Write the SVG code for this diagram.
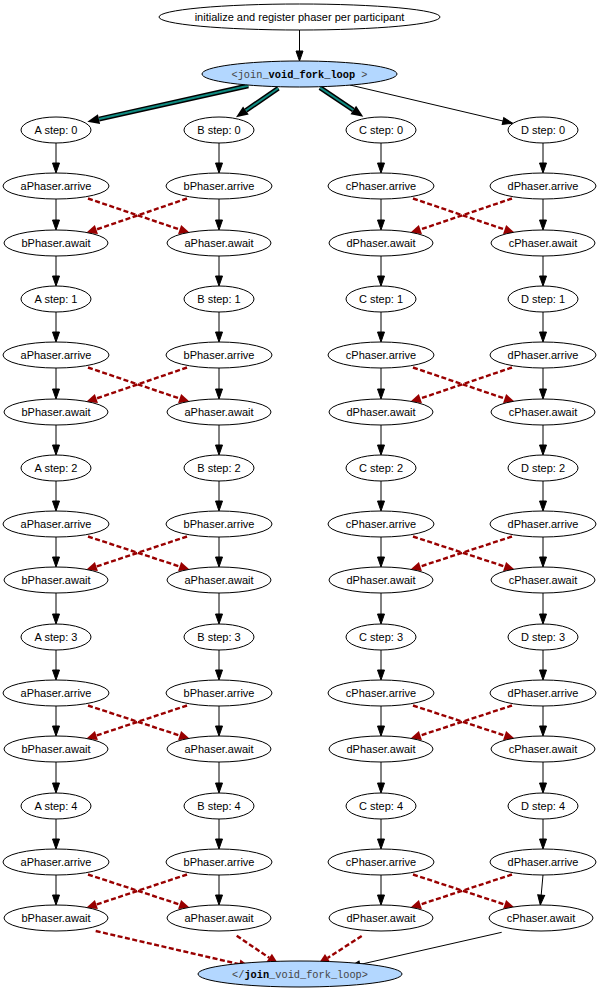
<svg xmlns="http://www.w3.org/2000/svg" width="600" height="996" viewBox="0 0 600 996">
<style>
.n ellipse{fill:#fff;stroke:#000;stroke-width:1}
.n text{font-family:"Liberation Sans",Arial,sans-serif;font-size:11px;text-anchor:middle;fill:#000}
.j ellipse{fill:#b3d7ff;stroke:#000;stroke-width:1}
.j text{font-family:"Liberation Mono","Courier New",monospace;font-size:10.3px;text-anchor:middle;fill:#444}
.j tspan.b{font-weight:bold;fill:#000}
.e{stroke:#000;stroke-width:1;fill:none;marker-end:url(#ab)}
.d{stroke:#990000;stroke-width:2.4;stroke-dasharray:5,2.5;fill:none;marker-end:url(#ar)}
.t1{stroke:#000;stroke-width:5;fill:none;marker-end:url(#at)}
.t2{stroke:#0f8a80;stroke-width:2;fill:none}
</style>
<defs>
<marker id="ab" markerUnits="userSpaceOnUse" markerWidth="12" markerHeight="10" refX="0" refY="0" orient="auto" overflow="visible"><path d="M0,-3.5 L10,0 L0,3.5 z" fill="#000" stroke="#000" stroke-width="1"/></marker>
<marker id="ar" markerUnits="userSpaceOnUse" markerWidth="12" markerHeight="10" refX="0" refY="0" orient="auto" overflow="visible"><path d="M0,-4.8 L11,0 L0,4.8 z" fill="#990000"/></marker>
<marker id="at" markerUnits="userSpaceOnUse" markerWidth="14" markerHeight="12" refX="0" refY="0" orient="auto" overflow="visible"><path d="M0,-5 L12,0 L0,5 z" fill="#000"/></marker>
</defs>

<g id="edges">
<path class="e" d="M299.5,30 V51"/>
<path class="t1" d="M248.3,85.7 L99,119.1"/><path class="t2" d="M248.3,85.7 L99,119.1"/>
<path class="t1" d="M278.3,88.3 L245.9,110.5"/><path class="t2" d="M278.3,88.3 L245.9,110.5"/>
<path class="t1" d="M320,87.7 L353.3,110"/><path class="t2" d="M320,87.7 L353.3,110"/>
<path class="e" d="M350,85 L503,121"/>

<path class="e" d="M56,143 V163"/><path class="e" d="M56,199 V220"/><path class="e" d="M56,256 V276"/><path class="e" d="M56,312 V332"/><path class="e" d="M56,368 V389"/><path class="e" d="M56,425 V445"/><path class="e" d="M56,481 V501"/><path class="e" d="M56,537 V557"/><path class="e" d="M56,593 V614"/><path class="e" d="M56,650 V670"/><path class="e" d="M56,706 V726"/><path class="e" d="M56,762 V783"/><path class="e" d="M56,819 V839"/><path class="e" d="M56,875 V895"/>
<path class="e" d="M219,143 V163"/><path class="e" d="M219,199 V220"/><path class="e" d="M219,256 V276"/><path class="e" d="M219,312 V332"/><path class="e" d="M219,368 V389"/><path class="e" d="M219,425 V445"/><path class="e" d="M219,481 V501"/><path class="e" d="M219,537 V557"/><path class="e" d="M219,593 V614"/><path class="e" d="M219,650 V670"/><path class="e" d="M219,706 V726"/><path class="e" d="M219,762 V783"/><path class="e" d="M219,819 V839"/><path class="e" d="M219,875 V895"/>
<path class="e" d="M381,143 V163"/><path class="e" d="M381,199 V220"/><path class="e" d="M381,256 V276"/><path class="e" d="M381,312 V332"/><path class="e" d="M381,368 V389"/><path class="e" d="M381,425 V445"/><path class="e" d="M381,481 V501"/><path class="e" d="M381,537 V557"/><path class="e" d="M381,593 V614"/><path class="e" d="M381,650 V670"/><path class="e" d="M381,706 V726"/><path class="e" d="M381,762 V783"/><path class="e" d="M381,819 V839"/><path class="e" d="M381,875 V895"/>
<path class="e" d="M543,143 V163"/><path class="e" d="M543,199 V220"/><path class="e" d="M543,256 V276"/><path class="e" d="M543,312 V332"/><path class="e" d="M543,368 V389"/><path class="e" d="M543,425 V445"/><path class="e" d="M543,481 V501"/><path class="e" d="M543,537 V557"/><path class="e" d="M543,593 V614"/><path class="e" d="M543,650 V670"/><path class="e" d="M543,706 V726"/><path class="e" d="M543,762 V783"/><path class="e" d="M543,819 V839"/><path class="e" d="M543,875 L541.2,895"/>

<path class="d" d="M88,198.5 L179.6,229.5"/><path class="d" d="M187,198.5 L96.4,229.5"/><path class="d" d="M413,198.5 L504.6,229.5"/><path class="d" d="M512,198.5 L420.4,229.5"/>
<path class="d" d="M88,367.5 L179.6,398.5"/><path class="d" d="M187,367.5 L96.4,398.5"/><path class="d" d="M413,367.5 L504.6,398.5"/><path class="d" d="M512,367.5 L420.4,398.5"/>
<path class="d" d="M88,536.5 L179.6,566.5"/><path class="d" d="M187,536.5 L96.4,566.5"/><path class="d" d="M413,536.5 L504.6,566.5"/><path class="d" d="M512,536.5 L420.4,566.5"/>
<path class="d" d="M88,705.5 L179.6,735.5"/><path class="d" d="M187,705.5 L96.4,735.5"/><path class="d" d="M413,705.5 L504.6,735.5"/><path class="d" d="M512,705.5 L420.4,735.5"/>
<path class="d" d="M88,874.5 L179.6,904.5"/><path class="d" d="M187,874.5 L96.4,904.5"/><path class="d" d="M413,874.5 L504.6,904.5"/><path class="d" d="M512,874.5 L420.4,904.5"/>

<path class="d" d="M95.7,931 L239.3,964.2"/>
<path class="d" d="M236.7,935.7 L269.2,957.8"/>
<path class="d" d="M361.7,936 L327.6,958"/>
<path class="e" d="M501.7,932.3 L359.8,964.5"/>
</g>

<g id="init" class="n"><ellipse cx="299.5" cy="17" rx="140.5" ry="13"/><text x="299.5" y="21">initialize and register phaser per participant</text></g>
<g id="join_open" class="j"><ellipse cx="299.5" cy="74" rx="97.5" ry="13"/><text x="299.5" y="78">&lt;join_<tspan class="b">void_fork_loop</tspan> &gt;</text></g>
<g id="join_close" class="j"><ellipse cx="300" cy="974" rx="102" ry="13"/><text x="300" y="978">&lt;/<tspan class="b">join</tspan>_void_fork_loop&gt;</text></g>

<g id="A0" class="n"><ellipse cx="56" cy="130" rx="35" ry="13"/><text x="56" y="134">A step: 0</text></g>
<g id="A0a" class="n"><ellipse cx="56" cy="186" rx="53" ry="13"/><text x="56" y="190">aPhaser.arrive</text></g>
<g id="A0w" class="n"><ellipse cx="56" cy="243" rx="52" ry="13"/><text x="56" y="247">bPhaser.await</text></g>
<g id="A1" class="n"><ellipse cx="56" cy="299" rx="35" ry="13"/><text x="56" y="303">A step: 1</text></g>
<g id="A1a" class="n"><ellipse cx="56" cy="355" rx="53" ry="13"/><text x="56" y="359">aPhaser.arrive</text></g>
<g id="A1w" class="n"><ellipse cx="56" cy="412" rx="52" ry="13"/><text x="56" y="416">bPhaser.await</text></g>
<g id="A2" class="n"><ellipse cx="56" cy="468" rx="35" ry="13"/><text x="56" y="472">A step: 2</text></g>
<g id="A2a" class="n"><ellipse cx="56" cy="524" rx="53" ry="13"/><text x="56" y="528">aPhaser.arrive</text></g>
<g id="A2w" class="n"><ellipse cx="56" cy="580" rx="52" ry="13"/><text x="56" y="584">bPhaser.await</text></g>
<g id="A3" class="n"><ellipse cx="56" cy="637" rx="35" ry="13"/><text x="56" y="641">A step: 3</text></g>
<g id="A3a" class="n"><ellipse cx="56" cy="693" rx="53" ry="13"/><text x="56" y="697">aPhaser.arrive</text></g>
<g id="A3w" class="n"><ellipse cx="56" cy="749" rx="52" ry="13"/><text x="56" y="753">bPhaser.await</text></g>
<g id="A4" class="n"><ellipse cx="56" cy="806" rx="35" ry="13"/><text x="56" y="810">A step: 4</text></g>
<g id="A4a" class="n"><ellipse cx="56" cy="862" rx="53" ry="13"/><text x="56" y="866">aPhaser.arrive</text></g>
<g id="A4w" class="n"><ellipse cx="56" cy="918" rx="52" ry="13"/><text x="56" y="922">bPhaser.await</text></g>

<g id="B0" class="n"><ellipse cx="219" cy="130" rx="35" ry="13"/><text x="219" y="134">B step: 0</text></g>
<g id="B0a" class="n"><ellipse cx="219" cy="186" rx="53" ry="13"/><text x="219" y="190">bPhaser.arrive</text></g>
<g id="B0w" class="n"><ellipse cx="219" cy="243" rx="52" ry="13"/><text x="219" y="247">aPhaser.await</text></g>
<g id="B1" class="n"><ellipse cx="219" cy="299" rx="35" ry="13"/><text x="219" y="303">B step: 1</text></g>
<g id="B1a" class="n"><ellipse cx="219" cy="355" rx="53" ry="13"/><text x="219" y="359">bPhaser.arrive</text></g>
<g id="B1w" class="n"><ellipse cx="219" cy="412" rx="52" ry="13"/><text x="219" y="416">aPhaser.await</text></g>
<g id="B2" class="n"><ellipse cx="219" cy="468" rx="35" ry="13"/><text x="219" y="472">B step: 2</text></g>
<g id="B2a" class="n"><ellipse cx="219" cy="524" rx="53" ry="13"/><text x="219" y="528">bPhaser.arrive</text></g>
<g id="B2w" class="n"><ellipse cx="219" cy="580" rx="52" ry="13"/><text x="219" y="584">aPhaser.await</text></g>
<g id="B3" class="n"><ellipse cx="219" cy="637" rx="35" ry="13"/><text x="219" y="641">B step: 3</text></g>
<g id="B3a" class="n"><ellipse cx="219" cy="693" rx="53" ry="13"/><text x="219" y="697">bPhaser.arrive</text></g>
<g id="B3w" class="n"><ellipse cx="219" cy="749" rx="52" ry="13"/><text x="219" y="753">aPhaser.await</text></g>
<g id="B4" class="n"><ellipse cx="219" cy="806" rx="35" ry="13"/><text x="219" y="810">B step: 4</text></g>
<g id="B4a" class="n"><ellipse cx="219" cy="862" rx="53" ry="13"/><text x="219" y="866">bPhaser.arrive</text></g>
<g id="B4w" class="n"><ellipse cx="219" cy="918" rx="52" ry="13"/><text x="219" y="922">aPhaser.await</text></g>

<g id="C0" class="n"><ellipse cx="381" cy="130" rx="35" ry="13"/><text x="381" y="134">C step: 0</text></g>
<g id="C0a" class="n"><ellipse cx="381" cy="186" rx="53" ry="13"/><text x="381" y="190">cPhaser.arrive</text></g>
<g id="C0w" class="n"><ellipse cx="381" cy="243" rx="52" ry="13"/><text x="381" y="247">dPhaser.await</text></g>
<g id="C1" class="n"><ellipse cx="381" cy="299" rx="35" ry="13"/><text x="381" y="303">C step: 1</text></g>
<g id="C1a" class="n"><ellipse cx="381" cy="355" rx="53" ry="13"/><text x="381" y="359">cPhaser.arrive</text></g>
<g id="C1w" class="n"><ellipse cx="381" cy="412" rx="52" ry="13"/><text x="381" y="416">dPhaser.await</text></g>
<g id="C2" class="n"><ellipse cx="381" cy="468" rx="35" ry="13"/><text x="381" y="472">C step: 2</text></g>
<g id="C2a" class="n"><ellipse cx="381" cy="524" rx="53" ry="13"/><text x="381" y="528">cPhaser.arrive</text></g>
<g id="C2w" class="n"><ellipse cx="381" cy="580" rx="52" ry="13"/><text x="381" y="584">dPhaser.await</text></g>
<g id="C3" class="n"><ellipse cx="381" cy="637" rx="35" ry="13"/><text x="381" y="641">C step: 3</text></g>
<g id="C3a" class="n"><ellipse cx="381" cy="693" rx="53" ry="13"/><text x="381" y="697">cPhaser.arrive</text></g>
<g id="C3w" class="n"><ellipse cx="381" cy="749" rx="52" ry="13"/><text x="381" y="753">dPhaser.await</text></g>
<g id="C4" class="n"><ellipse cx="381" cy="806" rx="35" ry="13"/><text x="381" y="810">C step: 4</text></g>
<g id="C4a" class="n"><ellipse cx="381" cy="862" rx="53" ry="13"/><text x="381" y="866">cPhaser.arrive</text></g>
<g id="C4w" class="n"><ellipse cx="381" cy="918" rx="52" ry="13"/><text x="381" y="922">dPhaser.await</text></g>

<g id="D0" class="n"><ellipse cx="543" cy="130" rx="35" ry="13"/><text x="543" y="134">D step: 0</text></g>
<g id="D0a" class="n"><ellipse cx="543" cy="186" rx="53" ry="13"/><text x="543" y="190">dPhaser.arrive</text></g>
<g id="D0w" class="n"><ellipse cx="543" cy="243" rx="52" ry="13"/><text x="543" y="247">cPhaser.await</text></g>
<g id="D1" class="n"><ellipse cx="543" cy="299" rx="35" ry="13"/><text x="543" y="303">D step: 1</text></g>
<g id="D1a" class="n"><ellipse cx="543" cy="355" rx="53" ry="13"/><text x="543" y="359">dPhaser.arrive</text></g>
<g id="D1w" class="n"><ellipse cx="543" cy="412" rx="52" ry="13"/><text x="543" y="416">cPhaser.await</text></g>
<g id="D2" class="n"><ellipse cx="543" cy="468" rx="35" ry="13"/><text x="543" y="472">D step: 2</text></g>
<g id="D2a" class="n"><ellipse cx="543" cy="524" rx="53" ry="13"/><text x="543" y="528">dPhaser.arrive</text></g>
<g id="D2w" class="n"><ellipse cx="543" cy="580" rx="52" ry="13"/><text x="543" y="584">cPhaser.await</text></g>
<g id="D3" class="n"><ellipse cx="543" cy="637" rx="35" ry="13"/><text x="543" y="641">D step: 3</text></g>
<g id="D3a" class="n"><ellipse cx="543" cy="693" rx="53" ry="13"/><text x="543" y="697">dPhaser.arrive</text></g>
<g id="D3w" class="n"><ellipse cx="543" cy="749" rx="52" ry="13"/><text x="543" y="753">cPhaser.await</text></g>
<g id="D4" class="n"><ellipse cx="543" cy="806" rx="35" ry="13"/><text x="543" y="810">D step: 4</text></g>
<g id="D4a" class="n"><ellipse cx="543" cy="862" rx="53" ry="13"/><text x="543" y="866">dPhaser.arrive</text></g>
<g id="D4w" class="n"><ellipse cx="541" cy="918" rx="52" ry="13"/><text x="541" y="922">cPhaser.await</text></g>
</svg>
